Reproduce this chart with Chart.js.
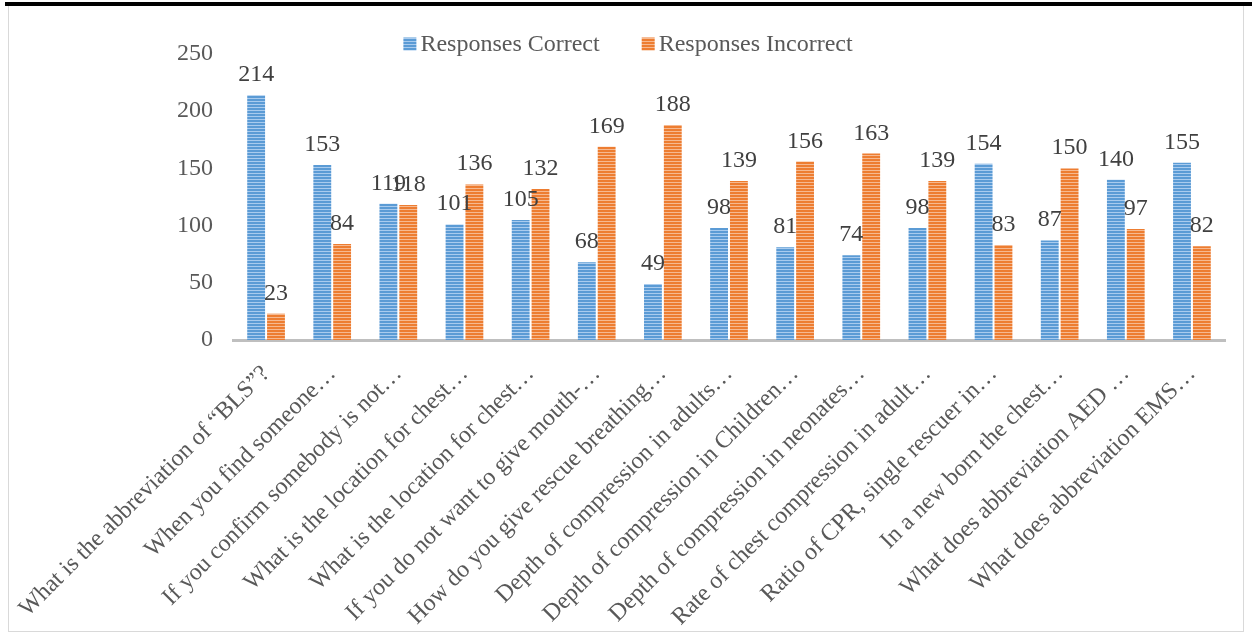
<!DOCTYPE html>
<html>
<head>
<meta charset="utf-8">
<script src="https://cdn.jsdelivr.net/npm/chart.js@4/dist/chart.umd.min.js"></script>
<style>
    html, body { margin: 0; padding: 0; background: #fff; }
    .topline { position: absolute; left: 5px; top: 2px; width: 1247px; height: 4px; background: #000; }
    .frame { position: absolute; left: 8px; top: 6px; width: 1234px; height: 625px; border: 1px solid #d9d9d9; border-top: none; }
    .frame canvas { display: block; }
</style>
</head>
<body>
<div class="topline"></div>
<div class="frame"><canvas id="chart" width="1234" height="625"></canvas></div>
<script>
// Survey questions (labels as shown, truncated)
const questions = [
    'What is the abbreviation of \u201cBLS\u201d?',
    'When you find someone\u2026',
    'If you confirm somebody is not\u2026',
    'What is the location for chest\u2026',
    'What is the location for chest\u2026',
    'If you do not want to give mouth-\u2026',
    'How do you give rescue breathing\u2026',
    'Depth of compression in adults\u2026',
    'Depth of compression in Children\u2026',
    'Depth of compression in neonates\u2026',
    'Rate of chest compression in adult\u2026',
    'Ratio of CPR, single rescuer in\u2026',
    'In a new born the chest\u2026',
    'What does abbreviation AED \u2026',
    'What does abbreviation EMS\u2026'
];
const correct   = [214, 153, 119, 101, 105, 68, 49, 98, 81, 74, 98, 154, 87, 140, 155];
const incorrect = [23, 84, 118, 136, 132, 169, 188, 139, 156, 163, 139, 83, 150, 97, 82];
const yTicks = [0, 50, 100, 150, 200, 250];

const FONT = '"Liberation Serif", "Times New Roman", serif';

// striped fill like the original office chart
function stripes(base, light) {
    const c = document.createElement('canvas');
    c.width = 4; c.height = 3;
    const g = c.getContext('2d');
    g.fillStyle = base; g.fillRect(0, 0, 4, 3);
    g.fillStyle = light; g.fillRect(0, 2, 4, 1);
    return g.createPattern(c, 'repeat');
}

const valueLabels = {
    id: 'valueLabels',
    afterDatasetsDraw(chart) {
        const ctx = chart.ctx;
        ctx.save();
        ctx.font = '24px ' + FONT;
        ctx.fillStyle = '#404040';
        ctx.textAlign = 'center';
        ctx.textBaseline = 'alphabetic';
        chart.data.datasets.forEach((ds, i) => {
            chart.getDatasetMeta(i).data.forEach((bar, j) => {
                ctx.fillText(ds.data[j], bar.x, bar.y - 14);
            });
        });
        ctx.restore();
    }
};

// legend sits over the top of the plot, like the office original
const topLegend = {
    id: 'topLegend',
    afterDraw(chart) {
        const ctx = chart.ctx;
        const box = 13, gapText = 4, gapItem = 42, cx = 619, cy = 38;
        ctx.save();
        ctx.font = '24px ' + FONT;
        ctx.textBaseline = 'middle';
        ctx.textAlign = 'left';
        const items = chart.data.datasets.map(ds => ({ text: ds.label, fill: ds.backgroundColor, w: ctx.measureText(ds.label).width }));
        const total = items.reduce((s, it) => s + box + gapText + it.w, 0) + gapItem * (items.length - 1);
        let x = cx - total / 2;
        items.forEach(it => {
            ctx.fillStyle = it.fill;
            ctx.fillRect(x, cy - box / 2, box, box);
            ctx.fillStyle = '#595959';
            ctx.fillText(it.text, x + box + gapText, cy + 1);
            x += box + gapText + it.w + gapItem;
        });
        ctx.restore();
    }
};

new Chart(document.getElementById('chart'), {
    type: 'bar',
    data: {
        labels: questions,
        datasets: [
            { label: 'Responses Correct', data: correct, backgroundColor: stripes('#5b9bd5', '#a9cbee') },
            { label: 'Responses Incorrect', data: incorrect, backgroundColor: stripes('#ed7d31', '#f6b990') }
        ]
    },
    options: {
        responsive: false,
        animation: false,
        categoryPercentage: 0.6,
        barPercentage: 0.9,
        layout: { padding: { top: 48, right: 18, bottom: 0, left: 0 } },
        plugins: {
            legend: { display: false },
            tooltip: { enabled: false }
        },
        scales: {
            x: {
                grid: { display: false },
                border: { color: '#bfbfbf', width: 3 },
                ticks: {
                    font: { family: FONT, size: 24 },
                    color: '#595959',
                    minRotation: 45,
                    maxRotation: 45,
                    autoSkip: false,
                    padding: 12
                },
                afterFit(scale) {
                    scale.height = 291;
                    scale.paddingLeft = 0;
                    scale.paddingRight = 0;
                }
            },
            y: {
                min: 0,
                max: 250,
                grid: { display: false, drawTicks: false },
                border: { display: false },
                afterBuildTicks(scale) { scale.ticks = yTicks.map(v => ({ value: v })); },
                ticks: {
                    font: { family: FONT, size: 24 },
                    color: '#595959',
                    padding: 20
                },
                afterFit(scale) { scale.width = 224; }
            }
        }
    },
    plugins: [valueLabels, topLegend]
});
</script>
</body>
</html>
